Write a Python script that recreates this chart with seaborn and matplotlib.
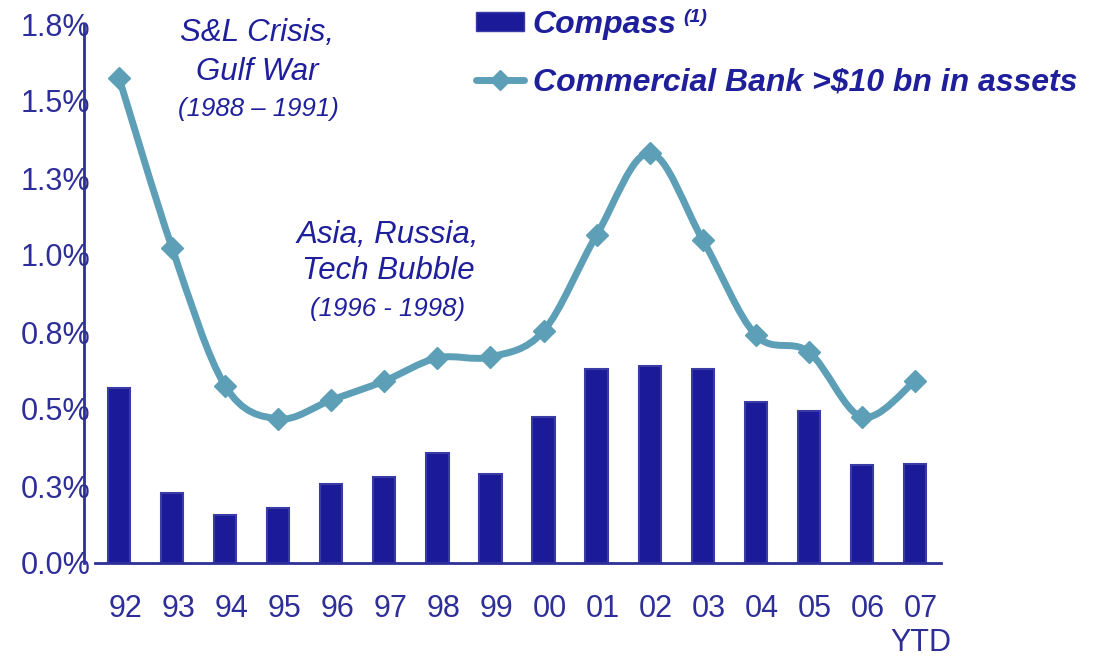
import numpy as np
import matplotlib
matplotlib.use("Agg")
import matplotlib.pyplot as plt
import matplotlib.transforms as mtransforms
from matplotlib.path import Path
from matplotlib.patches import PathPatch, Patch
from matplotlib.lines import Line2D
import seaborn as sns

years = ["92", "93", "94", "95", "96", "97", "98", "99", "00", "01", "02", "03", "04", "05", "06", "07\nYTD"]
compass = [0.568, 0.227, 0.156, 0.179, 0.256, 0.279, 0.357, 0.289, 0.474, 0.630, 0.640, 0.630, 0.523, 0.494, 0.318, 0.321]
comm_bank = [1.575, 1.023, 0.575, 0.468, 0.529, 0.591, 0.666, 0.669, 0.753, 1.065, 1.331, 1.049, 0.740, 0.685, 0.474, 0.591]
y_ticks = [0.0, 0.25, 0.5, 0.75, 1.0, 1.25, 1.5, 1.75]
y_labels = ["0.0%", "0.3%", "0.5%", "0.8%", "1.0%", "1.3%", "1.5%", "1.8%"]

bar_color = "#1b1b99"
line_color = "#5e9fb8"
text_color = "#2e2e98"
note_color = "#1f1f9c"

sns.set_style("white")
plt.rcParams["font.family"] = ["Liberation Sans", "DejaVu Sans"]

W, H = 1097, 659
fig = plt.figure(figsize=(W / 100, H / 100), dpi=100)
ax = fig.add_axes([84 / W, 1 - 563 / H, (941 - 84) / W, (563 - 24) / H])

x = np.arange(len(years))
sns.barplot(x=x, y=compass, ax=ax, color=bar_color, width=0.42, saturation=1,
            edgecolor="#3b3ba6", linewidth=1.5, native_scale=True)

# smoothed line (Excel style bezier through the points)
pts = np.column_stack([x, comm_bank])
verts = [tuple(pts[0])]
codes = [Path.MOVETO]
for i in range(len(pts) - 1):
    p0 = pts[max(i - 1, 0)]
    p1 = pts[i]
    p2 = pts[i + 1]
    p3 = pts[min(i + 2, len(pts) - 1)]
    c1 = p1 + (p2 - p0) / 6
    c2 = p2 - (p3 - p1) / 6
    verts += [tuple(c1), tuple(c2), tuple(p2)]
    codes += [Path.CURVE4] * 3
ax.add_patch(PathPatch(Path(verts, codes), facecolor="none", edgecolor=line_color,
                       lw=5, capstyle="round", joinstyle="round", clip_on=False, zorder=3))
ax.plot(x, comm_bank, ls="none", marker="D", ms=11, color=line_color, clip_on=False, zorder=4)

ax.set_xlim(-0.66, 15.49)
ax.set_ylim(0, 1.75)
ax.set_yticks(y_ticks)
ax.set_yticklabels(y_labels)
ax.set_xticks(x)
ax.set_xticklabels(years, linespacing=1.2)
ax.tick_params(axis="y", direction="inout", length=8, width=1.5, color=text_color,
               labelsize=22, labelcolor=text_color, pad=-8.5)
ax.tick_params(axis="x", length=0, labelsize=22, labelcolor=text_color, pad=22)
shift = mtransforms.ScaledTranslation(6 / 100, 0, fig.dpi_scale_trans)
for lbl in ax.get_xticklabels():
    lbl.set_transform(lbl.get_transform() + shift)

for s in ["top", "right"]:
    ax.spines[s].set_visible(False)
ax.spines["left"].set_color(text_color)
ax.spines["left"].set_linewidth(2)
ax.spines["left"].set_bounds(0, 1.75)
ax.spines["bottom"].set_color(text_color)
ax.spines["bottom"].set_linewidth(2)
ax.spines["bottom"].set_bounds(-0.45, 15.49)
ax.set_xlabel("")
ax.set_ylabel("")

# legend
handles = [Patch(facecolor=bar_color, edgecolor="#3b3ba6", linewidth=1),
           Line2D([], [], color=line_color, lw=5, marker="D", ms=10)]
leg = ax.legend(handles, ["Compass", "Commercial Bank >$10 bn in assets"],
                loc="upper left", bbox_to_anchor=(476 / W, 1 - 10 / H), bbox_transform=fig.transFigure,
                frameon=False, borderpad=0, borderaxespad=0, handlelength=1.5, handleheight=0.55,
                handletextpad=0.28, labelspacing=0.85,
                prop={"weight": "bold", "style": "italic", "size": 23})
for t in leg.get_texts():
    t.set_color(note_color)
fig.text(683 / W, 1 - 18 / H, "(1)", fontsize=14, fontweight="bold", fontstyle="italic",
         color=note_color, va="center", ha="left")

# annotations
def note(px, py, s, size):
    fig.text(px / W, 1 - py / H, s, ha="center", va="center", fontsize=size,
             fontstyle="italic", color=note_color)

note(257, 33, "S&L Crisis,", 22.5)
note(257, 72, "Gulf War", 22.5)
note(258, 109, "(1988 \u2013 1991)", 18.5)
note(388, 235, "Asia, Russia,", 22.5)
note(388, 271, "Tech Bubble", 22.5)
note(388, 309, "(1996 - 1998)", 18.5)

fig.savefig("out.png", dpi=100)
